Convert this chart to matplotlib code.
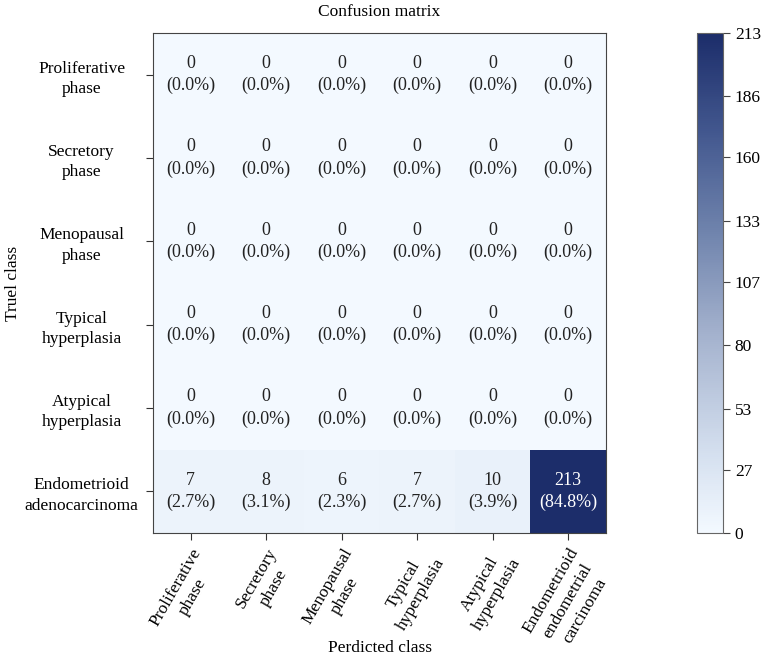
import numpy as np
import matplotlib.pyplot as plt
from matplotlib.colors import LinearSegmentedColormap

true_labels = ["Proliferative\nphase", "Secretory\nphase", "Menopausal\nphase",
               "Typical\nhyperplasia", "Atypical\nhyperplasia", "Endometrioid\nadenocarcinoma"]
pred_labels = ["Proliferative\nphase", "Secretory\nphase", "Menopausal\nphase",
               "Typical\nhyperplasia", "Atypical\nhyperplasia", "Endometrioid\nendometrial\ncarcinoma"]
last_row = [7, 8, 6, 7, 10, 213]

cm = np.zeros((6, 6), dtype=int)
cm[5] = last_row
total = cm.sum()

plt.rcParams['font.family'] = ['Liberation Serif', 'DejaVu Serif']
fs = 12.5
plt.rcParams['font.size'] = fs

cmap = LinearSegmentedColormap.from_list(
    "navy", [(0, "#f3f9ff"), (0.15, "#d6e1f0"), (0.4, "#a3b1cd"),
             (0.6, "#7084ad"), (0.8, "#43588f"), (1, "#1c2d6a")])

fig = plt.figure(figsize=(7.67, 6.6), dpi=100)
ax = fig.add_axes([153/767, 127/660, 453/767, 500/660])
cax = fig.add_axes([697/767, 127/660, 26/767, 500/660])

im = ax.imshow(cm, cmap=cmap, vmin=0, vmax=213, aspect='auto')
for i in range(6):
    for j in range(6):
        v = cm[i, j]
        pct = np.floor(1000 * v / total) / 10 if i == 5 else 0.0
        col = 'white' if v > 213 / 2 else '#222222'
        ax.text(j, i, "%d\n(%.1f%%)" % (v, pct), ha='center', va='center',
                color=col, fontsize=13, linespacing=1.4)

ax.set_xticks(range(6))
ax.set_yticks(range(6))
ax.set_xticklabels(pred_labels, rotation=60, ha='right', rotation_mode='anchor',
                   multialignment='center', linespacing=1.3)
ax.set_yticklabels(true_labels, multialignment='center', linespacing=1.35)
for lbl in ax.get_yticklabels():
    lbl.set_horizontalalignment('center')
    lbl.set_x(-0.13)
ax.tick_params(length=5, color='#333333', pad=4)
for s in ax.spines.values():
    s.set_color('#444444')
ax.set_title("Confusion matrix", fontsize=fs, pad=12)
ax.set_xlabel("Perdicted class", fontsize=fs)
ax.xaxis.set_label_coords(0.5, -0.23)
ax.xaxis.label.set_va('center')
ax.set_ylabel("Truel class", fontsize=fs)
ax.yaxis.set_label_coords(-0.31, 0.5)
ax.yaxis.label.set_va('center')

cb = fig.colorbar(im, cax=cax)
ticks = [int(t + 0.5) for t in np.linspace(0, 213, 9)]
cb.set_ticks(ticks)
cb.outline.set_edgecolor('#666666')
cax.tick_params(length=5, color='#444444', labelsize=fs)

plt.savefig("out.png", dpi=100)
